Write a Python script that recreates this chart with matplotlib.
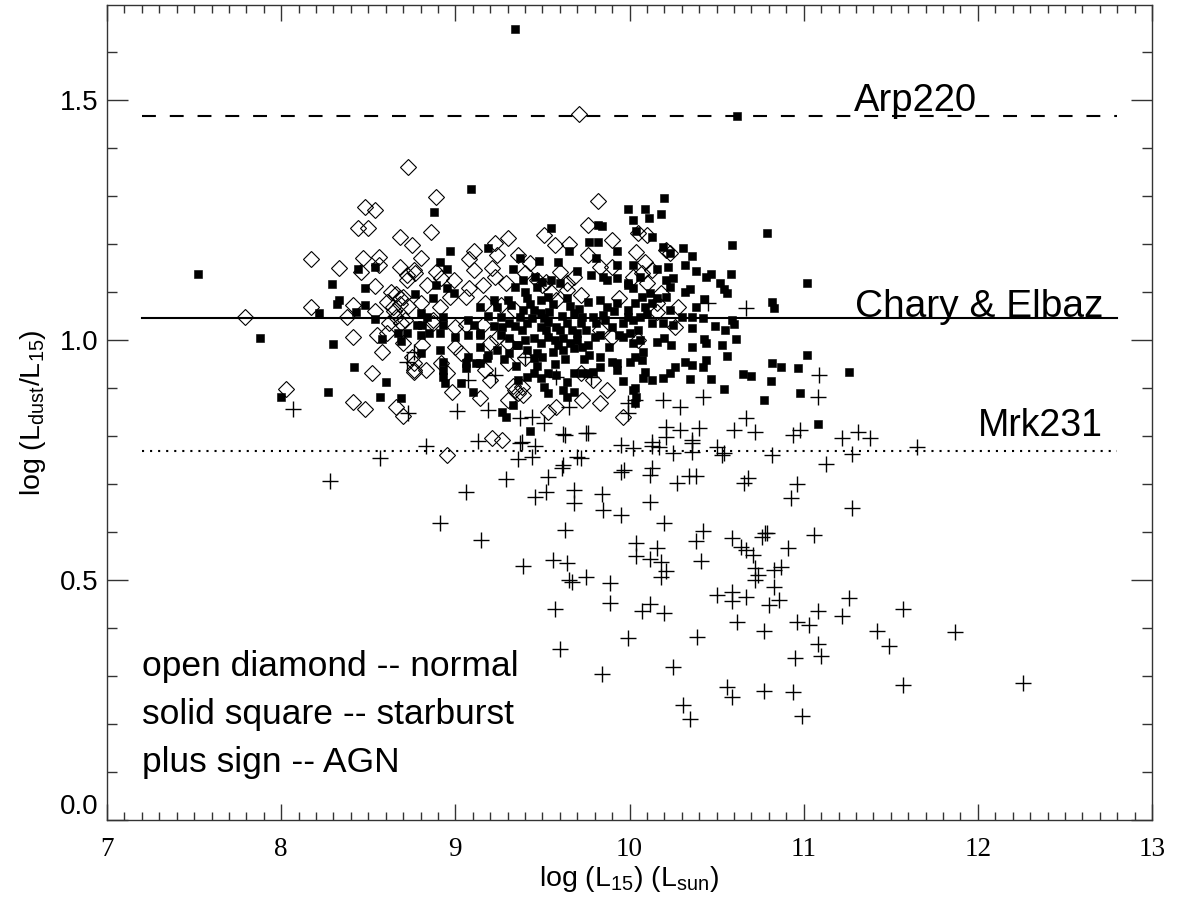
import matplotlib
matplotlib.use("Agg")
import matplotlib.pyplot as plt
from matplotlib.ticker import MultipleLocator, FormatStrFormatter

# ---------------- data ----------------
normal_points = [
    (8.73, 1.36), (8.48, 1.277), (8.54, 1.27), (8.44, 1.233), (8.50, 1.233), (8.68, 1.215),
    (8.75, 1.198), (8.17, 1.169), (8.33, 1.15), (8.47, 1.171), (8.56, 1.173), (8.46, 1.142),
    (8.56, 1.156), (8.68, 1.152), (8.72, 1.135), (8.76, 1.146), (8.54, 1.112), (8.17, 1.069),
    (7.79, 1.048), (8.38, 1.048), (8.41, 1.073), (8.54, 1.06), (8.61, 1.08), (8.64, 1.069),
    (8.70, 1.09), (8.66, 1.048), (8.71, 1.042), (8.62, 1.035), (8.41, 1.006), (8.55, 1.01),
    (8.61, 1.015), (8.58, 0.975), (8.52, 0.931), (8.75, 0.965), (8.76, 0.938), (8.03, 0.898),
    (8.41, 0.871), (8.48, 0.856), (8.66, 0.86), (8.70, 0.842), (8.63, 1.10), (8.66, 1.095),
    (8.68, 1.075), (8.73, 1.07), (8.65, 1.06), (9.71, 1.471),
    (8.89, 1.298), (9.82, 1.29), (8.86, 1.225), (8.80, 1.171), (9.11, 1.185), (9.08, 1.169),
    (9.23, 1.202), (9.30, 1.213), (9.51, 1.219), (9.57, 1.198), (9.65, 1.20), (9.76, 1.24),
    (9.76, 1.177), (9.90, 1.208), (9.21, 1.15), (9.11, 1.146), (9.24, 1.177), (9.36, 1.177),
    (9.43, 1.160), (8.77, 1.139), (8.72, 1.125), (8.84, 1.115), (8.89, 1.142), (8.92, 1.129),
    (8.99, 1.125), (9.16, 1.115), (9.08, 1.108), (9.23, 1.131), (9.29, 1.119), (9.60, 1.142),
    (9.64, 1.119), (9.68, 1.131), (9.83, 1.152), (9.90, 1.152), (9.94, 1.088), (8.68, 1.088),
    (8.80, 1.077), (8.87, 1.042), (8.91, 1.069), (8.97, 1.09), (9.06, 1.09), (9.17, 1.077),
    (9.26, 1.073), (9.34, 1.063), (9.58, 1.083), (9.64, 1.104), (9.72, 1.094), (8.69, 1.035),
    (8.87, 1.035), (9.00, 1.027), (9.06, 1.031), (9.16, 1.031), (9.20, 0.994), (9.30, 0.994),
    (9.24, 1.004), (9.83, 1.021), (9.90, 1.006), (8.70, 0.994), (8.81, 0.99), (8.76, 0.952),
    (9.00, 0.985), (9.03, 0.973), (9.30, 0.952), (9.40, 0.963), (8.92, 0.952), (8.95, 0.931),
    (8.76, 0.933), (8.83, 0.938), (9.17, 0.938), (9.20, 0.917), (9.72, 0.931), (9.79, 0.917),
    (8.98, 0.892), (9.14, 0.879), (9.87, 0.896), (9.83, 0.869), (9.73, 0.875), (9.34, 0.896),
    (9.38, 0.902), (9.30, 0.875), (9.53, 0.85), (9.58, 0.86), (9.96, 0.84), (8.95, 0.76),
    (9.21, 0.796), (9.27, 0.792), (9.47, 1.125), (9.50, 1.115), (9.52, 1.12), (9.40, 1.14),
    (9.55, 1.10), (9.33, 0.905), (9.36, 0.89), (9.39, 0.885),
    (10.05, 1.223), (10.10, 1.219), (10.04, 1.183), (10.21, 1.188), (10.23, 1.181),
    (10.09, 1.163), (10.13, 1.146), (10.02, 1.131), (10.07, 1.139), (10.10, 1.119),
    (10.18, 1.098), (10.16, 1.077), (10.28, 1.069), (10.26, 1.027), (10.16, 1.058), (10.05, 1.0),
]

starburst_points = [
    (7.52, 1.138), (7.88, 1.004), (8.00, 0.881), (8.29, 1.117), (8.44, 1.148), (8.54, 1.152),
    (8.48, 1.108), (8.33, 1.083), (8.32, 1.075), (8.48, 1.073), (8.22, 1.056), (8.43, 1.058),
    (8.54, 1.044), (8.30, 0.992), (8.58, 1.002), (8.69, 0.998), (8.67, 1.015), (8.77, 1.096),
    (8.42, 0.944), (8.60, 0.912), (8.27, 0.892), (8.57, 0.881), (8.69, 0.879),
    (9.34, 1.648), (10.62, 1.467), (9.09, 1.315), (8.88, 1.267), (9.55, 1.233),
    (9.99, 1.273), (10.02, 1.25), (10.04, 1.227), (9.82, 1.24), (9.84, 1.238), (9.77, 1.204),
    (9.82, 1.204), (8.97, 1.185), (9.19, 1.192), (9.65, 1.185), (9.93, 1.185), (9.37, 1.171),
    (9.48, 1.165), (9.59, 1.163), (9.81, 1.171), (8.91, 1.162), (8.95, 1.148), (9.33, 1.148),
    (9.70, 1.144), (9.78, 1.135), (9.85, 1.131), (9.93, 1.156), (10.02, 1.156), (9.39, 1.125),
    (9.46, 1.131), (9.50, 1.121), (9.55, 1.125), (9.60, 1.119), (8.89, 1.115), (8.99, 1.098),
    (8.95, 1.108), (9.34, 1.11), (9.40, 1.10), (9.47, 1.11), (9.87, 1.125), (9.93, 1.129),
    (9.99, 1.119), (10.02, 1.108), (8.87, 1.088), (9.22, 1.083), (9.30, 1.083), (9.41, 1.088),
    (9.49, 1.083), (9.53, 1.09), (9.64, 1.088), (9.76, 1.079), (9.83, 1.083), (9.87, 1.069),
    (9.93, 1.077), (9.99, 1.063), (10.03, 1.077), (9.14, 1.069), (9.24, 1.069), (9.32, 1.073),
    (9.39, 1.063), (9.45, 1.063), (9.49, 1.056), (9.54, 1.058), (9.68, 1.056), (9.73, 1.048),
    (9.79, 1.048), (9.85, 1.052), (8.80, 1.056), (8.84, 1.048), (8.78, 1.031), (8.81, 1.031),
    (8.93, 1.048), (8.93, 1.031), (9.07, 1.042), (9.11, 1.031), (9.14, 1.015), (9.26, 1.048),
    (9.27, 1.027), (9.31, 1.035), (9.37, 1.048), (9.41, 1.035), (9.49, 1.027), (9.53, 1.038),
    (9.58, 1.027), (9.64, 1.035), (9.67, 1.021), (9.72, 1.035), (9.81, 1.035), (9.86, 1.042),
    (9.90, 1.027), (9.96, 1.035), (10.02, 1.042), (8.72, 1.015), (8.80, 1.01), (8.85, 1.015),
    (8.91, 1.015), (9.00, 1.006), (9.07, 1.01), (9.14, 1.01), (9.26, 1.01), (9.31, 1.004),
    (9.36, 0.99), (9.40, 1.0), (9.45, 1.004), (9.49, 0.994), (9.53, 1.006), (9.57, 1.0),
    (9.62, 1.004), (9.66, 0.994), (9.70, 1.0), (9.76, 0.99), (9.80, 1.006), (9.83, 1.01),
    (9.94, 1.01), (10.00, 1.015), (10.02, 0.994), (8.80, 0.973), (8.91, 0.979), (9.07, 0.965),
    (9.12, 0.952), (9.14, 0.985), (9.19, 0.969), (9.24, 0.979), (9.31, 0.973), (9.35, 0.99),
    (9.41, 0.979), (9.45, 0.963), (9.50, 0.965), (9.56, 0.975), (9.62, 0.979), (9.68, 0.983),
    (9.73, 0.985), (9.77, 0.969), (9.83, 0.965), (9.90, 0.954), (9.93, 0.952), (10.00, 0.954),
    (10.03, 0.965), (8.93, 0.954), (8.93, 0.938), (8.93, 0.923), (8.94, 0.91), (9.03, 0.91),
    (9.06, 0.952), (9.06, 0.942), (9.10, 0.892), (9.14, 0.952), (9.18, 0.963), (9.36, 0.917),
    (9.41, 0.923), (9.45, 0.931), (9.49, 0.921), (9.53, 0.931), (9.58, 0.927), (9.64, 0.913),
    (9.68, 0.931), (9.73, 0.931), (9.76, 0.931), (9.79, 0.933), (9.83, 0.944), (9.93, 0.938),
    (9.96, 0.915), (10.02, 0.896), (10.03, 0.869), (10.04, 0.881), (9.51, 0.902), (9.53, 0.89),
    (9.62, 0.896), (9.64, 0.881), (9.68, 0.892), (9.27, 0.85), (9.29, 0.84), (9.33, 0.865),
    (9.43, 0.81),
    (9.44, 1.045), (9.47, 0.972), (9.52, 1.02), (9.59, 0.99), (9.61, 1.05), (9.66, 1.07),
    (9.70, 1.015), (9.74, 0.96), (9.57, 0.95), (9.47, 0.945), (9.38, 1.02), (9.34, 1.03),
    (9.43, 1.075), (9.56, 1.075), (9.63, 0.96), (9.71, 1.065), (9.75, 1.02), (9.35, 0.945),
    (9.51, 1.045), (9.60, 1.02), (10.05, 1.02), (10.08, 0.975), (10.10, 1.055), (9.88, 0.985),
    (9.91, 1.06), (9.28, 0.96), (9.22, 1.03), (9.19, 1.05),
    (10.20, 1.296), (10.09, 1.273), (10.11, 1.254), (10.18, 1.263), (10.79, 1.223),
    (10.59, 1.198), (10.13, 1.215), (10.19, 1.194), (10.23, 1.181), (10.31, 1.192),
    (10.36, 1.175), (10.32, 1.156), (10.38, 1.144), (10.22, 1.152), (10.16, 1.148),
    (10.25, 1.129), (10.21, 1.125), (10.44, 1.131), (10.47, 1.138), (10.52, 1.119),
    (10.58, 1.138), (10.54, 1.106), (10.56, 1.098), (11.02, 1.119), (10.32, 1.10),
    (10.35, 1.106), (10.23, 1.11), (10.21, 1.09), (10.43, 1.085), (10.38, 1.069),
    (10.82, 1.079), (10.83, 1.067), (10.06, 1.131), (9.99, 1.115), (10.07, 1.09),
    (10.12, 1.098), (10.16, 1.088), (10.09, 1.069), (10.13, 1.077), (10.23, 1.063),
    (10.30, 1.048), (10.36, 1.048), (10.42, 1.046), (10.59, 1.042), (10.60, 1.033),
    (10.49, 1.029), (10.55, 1.021), (9.99, 1.048), (10.06, 1.048), (10.13, 1.035),
    (10.19, 1.035), (10.25, 1.031), (10.36, 1.025), (9.96, 1.006), (10.06, 1.0),
    (10.16, 0.996), (10.20, 1.004), (10.24, 0.99), (10.36, 0.985), (10.43, 1.002),
    (10.44, 0.994), (10.53, 0.99), (10.61, 1.002), (11.02, 0.969), (10.56, 0.967),
    (10.07, 0.958), (10.32, 0.954), (10.36, 0.948), (10.42, 0.944), (10.44, 0.958),
    (10.82, 0.952), (10.87, 0.944), (10.97, 0.942), (11.26, 0.933), (10.09, 0.933),
    (10.08, 0.921), (10.13, 0.917), (10.19, 0.921), (10.23, 0.931), (10.26, 0.944),
    (10.35, 0.919), (10.47, 0.919), (10.65, 0.929), (10.70, 0.925), (10.81, 0.915),
    (10.54, 0.898), (10.98, 0.89), (10.77, 0.875), (10.03, 0.90), (11.08, 0.825),
]

agn_points = [
    (8.28, 0.706), (8.57, 0.755), (8.83, 0.779), (9.13, 0.79), (9.37, 0.785), (9.46, 0.78),
    (9.36, 0.752), (9.44, 0.756), (9.62, 0.804), (9.75, 0.806), (9.70, 0.756), (9.95, 0.781),
    (10.02, 0.775), (9.29, 0.71), (9.06, 0.683), (9.53, 0.715), (9.61, 0.733), (9.46, 0.673),
    (9.52, 0.683), (9.68, 0.687), (9.68, 0.66), (9.84, 0.679), (9.85, 0.646), (9.95, 0.635),
    (9.95, 0.725), (8.91, 0.619), (9.15, 0.583), (9.63, 0.604), (9.39, 0.529), (9.56, 0.542),
    (9.64, 0.535), (9.65, 0.50), (9.67, 0.495), (9.75, 0.506), (9.89, 0.494), (9.89, 0.452),
    (10.04, 0.577), (10.04, 0.55), (9.57, 0.44), (9.99, 0.379), (9.60, 0.356), (9.84, 0.304),
    (10.13, 0.78), (10.36, 0.785), (10.50, 0.777), (10.53, 0.76), (10.82, 0.76), (11.13, 0.742),
    (11.28, 0.762), (11.65, 0.777), (9.97, 0.729), (10.13, 0.733), (10.12, 0.719),
    (10.27, 0.702), (10.34, 0.717), (10.38, 0.717), (10.66, 0.702), (10.68, 0.712),
    (10.96, 0.70), (10.93, 0.671), (11.28, 0.65), (10.12, 0.663), (10.20, 0.619),
    (10.42, 0.602), (10.38, 0.581), (10.16, 0.567), (10.12, 0.544), (10.18, 0.538),
    (10.21, 0.519), (10.18, 0.506), (10.41, 0.54), (10.59, 0.587), (10.64, 0.569),
    (10.67, 0.563), (10.71, 0.552), (10.78, 0.598), (10.79, 0.598), (10.76, 0.59),
    (10.91, 0.567), (11.06, 0.594), (10.72, 0.525), (10.74, 0.51), (10.72, 0.50),
    (10.83, 0.521), (10.87, 0.527), (10.83, 0.485), (10.86, 0.458), (10.80, 0.448),
    (10.50, 0.469), (10.59, 0.475), (10.59, 0.456), (10.67, 0.465), (10.07, 0.435),
    (10.12, 0.45), (10.20, 0.431), (10.62, 0.413), (10.77, 0.394), (10.96, 0.413),
    (11.03, 0.406), (11.08, 0.435), (11.22, 0.425), (11.26, 0.463), (11.57, 0.44),
    (11.42, 0.394), (11.49, 0.363), (11.08, 0.367), (11.10, 0.342), (10.95, 0.338),
    (10.39, 0.381), (10.25, 0.319), (10.56, 0.277), (10.59, 0.256), (10.77, 0.269),
    (10.94, 0.267), (11.57, 0.281), (10.31, 0.24), (10.35, 0.21), (10.99, 0.217),
    (11.31, 0.808), (11.38, 0.796), (11.87, 0.392), (12.26, 0.285),
    (8.07, 0.856), (8.73, 0.848), (8.72, 0.954), (8.76, 0.975), (9.07, 0.917), (9.23, 0.927),
    (9.40, 0.965), (9.58, 0.923), (9.01, 0.852), (9.19, 0.854), (9.37, 0.838), (9.44, 0.84),
    (9.51, 0.827), (9.65, 0.86), (9.63, 0.802), (9.76, 0.806), (9.38, 0.788), (9.62, 0.74),
    (9.72, 0.754), (9.99, 0.848), (9.78, 0.923),
    (10.45, 1.077), (10.67, 1.067), (11.09, 0.927), (11.08, 0.881), (10.19, 0.875),
    (10.29, 0.86), (10.42, 0.881), (9.99, 0.869), (10.03, 0.875), (10.67, 0.838),
    (10.60, 0.813), (10.72, 0.808), (10.21, 0.819), (10.29, 0.813), (10.40, 0.817),
    (10.21, 0.798), (10.13, 0.788), (10.36, 0.792), (10.54, 0.765), (10.94, 0.802),
    (10.98, 0.813), (11.22, 0.796), (10.17, 0.777), (10.25, 0.765), (10.36, 0.767),
]

line_x = [7.2, 12.8]
arp220_level = 1.467
chary_elbaz_level = 1.045
mrk231_level = 0.769

legend_lines = ["open diamond -- normal", "solid square -- starburst", "plus sign -- AGN"]

# ---------------- style ----------------
plt.rcParams['font.family'] = ['Liberation Sans', 'DejaVu Sans']
plt.rcParams['mathtext.fontset'] = 'custom'
plt.rcParams['mathtext.rm'] = 'Liberation Sans'
plt.rcParams['mathtext.it'] = 'Liberation Sans:italic'
plt.rcParams['mathtext.bf'] = 'Liberation Sans:bold'

W, H = 1178, 905
fig = plt.figure(figsize=(W / 100, H / 100), dpi=100)
ax = fig.add_axes([107 / W, (H - 820) / H, (1152 - 107) / W, (820 - 5) / H])

# reference lines
lw_line = 1.5
ax.plot(line_x, [arp220_level] * 2, color='black', lw=lw_line, dashes=(10 / lw_line, 10 / lw_line))
ax.plot(line_x, [chary_elbaz_level] * 2, color='black', lw=lw_line)
ax.plot(line_x, [mrk231_level] * 2, color='black', lw=lw_line, dashes=(1.0, 4.3 / lw_line))

nx = [p[0] for p in normal_points]
ny = [p[1] for p in normal_points]
sx = [p[0] for p in starburst_points]
sy = [p[1] for p in starburst_points]
axx = [p[0] for p in agn_points]
ayy = [p[1] for p in agn_points]

ax.plot(nx, ny, linestyle='none', marker='D', markersize=8.0, markerfacecolor='none',
        markeredgecolor='black', markeredgewidth=0.8)
ax.plot(sx, sy, linestyle='none', marker='s', markersize=5.8, markerfacecolor='black',
        markeredgecolor='black', markeredgewidth=0.4)
ax.plot(axx, ayy, linestyle='none', marker='+', markersize=11.5, markeredgecolor='black',
        markeredgewidth=1.0)

# labels on lines
ax.text(11.29, arp220_level + 0.01, "Arp220", fontsize=27.5, ha='left', va='baseline')
ax.text(12.72, chary_elbaz_level + 0.004, "Chary & Elbaz", fontsize=28, ha='right', va='baseline')
ax.text(12.72, mrk231_level + 0.032, "Mrk231", fontsize=27, ha='right', va='baseline')

for i, t in enumerate(legend_lines):
    ax.text(7.2, 0.30 - 0.1 * i, t, fontsize=25.5, ha='left', va='baseline')

ax.set_xlim(7, 13)
ax.set_ylim(0, 1.698)

ax.xaxis.set_major_locator(MultipleLocator(1))
ax.xaxis.set_minor_locator(MultipleLocator(0.1))
ax.yaxis.set_major_locator(MultipleLocator(0.5))
ax.yaxis.set_minor_locator(MultipleLocator(0.1))
ax.yaxis.set_major_formatter(FormatStrFormatter('%.1f'))

spine_col = '#333333'
for s in ax.spines.values():
    s.set_linewidth(1.0)
    s.set_color(spine_col)

ax.tick_params(axis='both', which='both', direction='in', top=True, right=True,
               color=spine_col, width=1.0)
ax.tick_params(axis='x', which='major', length=11.5, pad=12, labelsize=19.5)
ax.tick_params(axis='x', which='minor', length=5.8)
ax.tick_params(axis='y', which='major', length=15, pad=6, labelsize=20)
ax.tick_params(axis='y', which='minor', length=7.5)
for lab in ax.get_xticklabels():
    lab.set_fontfamily('Liberation Serif')

ax.set_xlabel(r'$\mathregular{log\ (L_{15})\ (L_{sun})}$', fontsize=20.5, labelpad=2)
ax.set_ylabel(r'$\mathregular{log\ (L_{dust}/L_{15})}$', fontsize=20.5, labelpad=9)

fig.canvas.draw()
ylabs = ax.get_yticklabels()
for lab in ylabs:
    if lab.get_text() == '0.0':
        lab.set_verticalalignment('bottom')

fig.savefig('out.png', dpi=100)
